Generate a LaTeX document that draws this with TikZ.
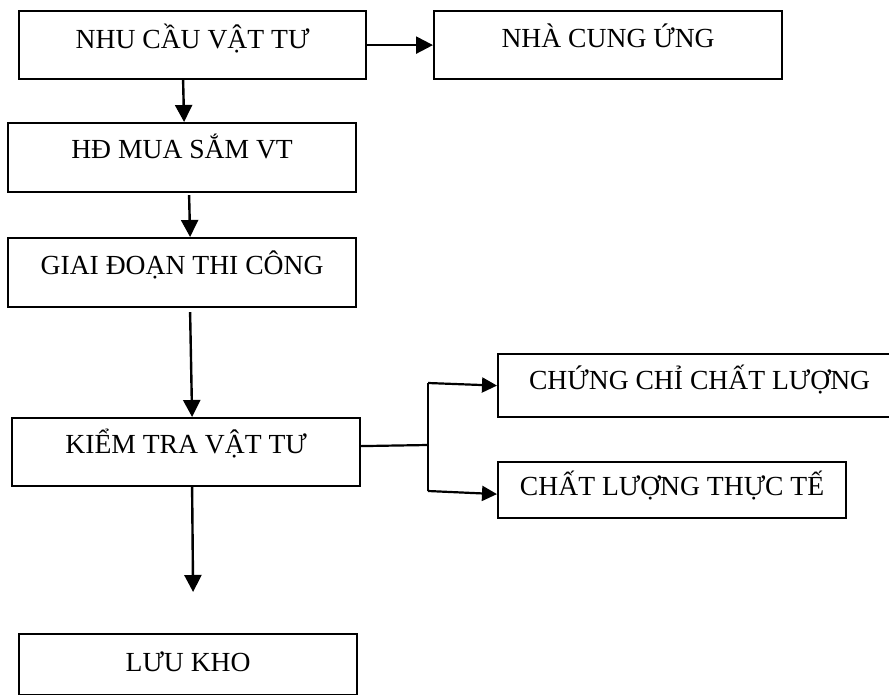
\documentclass[tikz,border=0pt]{standalone}
\usepackage{fontspec}
\setmainfont{Liberation Serif}
\usetikzlibrary{arrows.meta}
\begin{document}
\begin{tikzpicture}[x=1pt,y=-1pt,
  stepbox/.style={draw, line width=2.2pt, inner sep=0pt, anchor=north west,
    font=\fontsize{27.6}{33}\selectfont},
  flow/.style={line width=2.4pt, -{Triangle[length=17pt,width=17pt]}},
  branch/.style={line width=2.2pt, -{Triangle[length=15pt,width=15pt]}},
  link/.style={line width=2.2pt}]
\clip (0,0) rectangle (889,695);

% process boxes (text sits in the upper part of each box)
\node[stepbox, minimum width=347pt, text height=37pt, text depth=31pt] (nhucau) at (18,10) {NHU CẦU VẬT TƯ};
\node[stepbox, minimum width=348pt, text height=36pt, text depth=32pt] (nhacungung) at (433,10) {NHÀ CUNG ỨNG};
\node[stepbox, minimum width=348pt, text height=35pt, text depth=34pt] (hdmua) at (7,122) {HĐ MUA SẮM VT};
\node[stepbox, minimum width=348pt, text height=36pt, text depth=33pt] (giaidoan) at (7,237) {GIAI ĐOẠN THI CÔNG};
\node[stepbox, minimum width=348pt, text height=35pt, text depth=33pt] (kiemtra) at (11,417) {KIỂM TRA VẬT TƯ};
\node[stepbox, minimum width=403pt, text height=35pt, text depth=28pt] (chungchi) at (497,353) {CHỨNG CHỈ CHẤT LƯỢNG};
\node[stepbox, minimum width=348pt, text height=33pt, text depth=23pt] (thucte) at (497,461) {CHẤT LƯỢNG THỰC TẾ};
\node[stepbox, minimum width=338pt, text height=37pt, text depth=24pt] (luukho) at (18,633) {LƯU KHO};

% main flow
\draw[flow] (nhucau.east) -- (nhacungung.west);
\draw[flow] ([xshift=-9.5pt]nhucau.south) -- ([xshift=2pt]hdmua.north);
\draw[flow] ([xshift=7pt,yshift=-2pt]hdmua.south) -- ([xshift=8pt]giaidoan.north);
\draw[flow] ([xshift=8pt,yshift=-4pt]giaidoan.south) -- ([xshift=6pt]kiemtra.north);
\draw[flow] ([xshift=6pt]kiemtra.south) -- ([xshift=5pt,yshift=41pt]luukho.north);

% inspection branches
\coordinate (fork) at (428,445);
\coordinate (forktop) at (428,383);
\coordinate (forkbot) at (428,491);
\draw[link] ([yshift=6pt]kiemtra.east) -- (fork);
\draw[link] (forktop) -- (forkbot);
\draw[branch] (forktop) -- (chungchi.west);
\draw[branch] (forkbot) -- ([yshift=-4pt]thucte.west);
\end{tikzpicture}
\end{document}
